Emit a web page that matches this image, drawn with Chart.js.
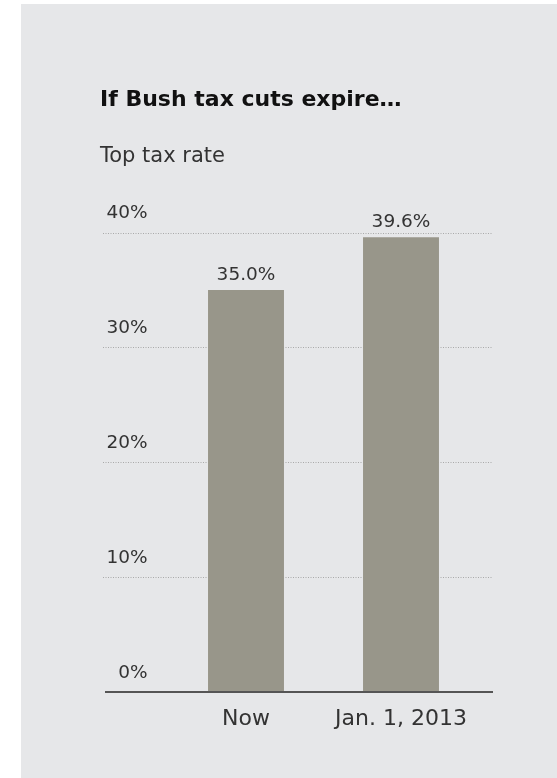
<!DOCTYPE html>
<html>
<head>
<meta charset="utf-8">
<script src="https://cdn.jsdelivr.net/npm/chart.js@4"></script>
<style>
  html, body { margin: 0; padding: 0; background: #ffffff; }
  #wrap { position: relative; width: 557px; height: 778px; overflow: hidden; }
  #panel { position: absolute; left: 21px; top: 4px; width: 536px; height: 774px; background: #e6e7e9; }
  #c { position: absolute; left: 0; top: 0; }
</style>
</head>
<body>
<div id="wrap">
  <div id="panel"></div>
  <canvas id="c" width="557" height="778"></canvas>
</div>
<script>
const titleText = 'If Bush tax cuts expire\u2026';
const subtitleText = 'Top tax rate';
const categories = ['Now', 'Jan. 1, 2013'];
const rates = [35.0, 39.6];
const valueLabels = ['35.0%', '39.6%'];
const yMin = 0;
const yMax = 40;
const yStep = 10;

const FONT = "'DejaVu Sans', sans-serif";

const gridPlugin = {
  id: 'gridPlugin',
  beforeDatasetsDraw(chart) {
    const y = chart.scales.y;
    const ctx = chart.ctx;
    ctx.save();
    ctx.strokeStyle = '#a9a9a9';
    ctx.lineWidth = 1;
    ctx.setLineDash([1, 1.5]);
    y.ticks.forEach(t => {
      if (t.value === yMin) return;
      const py = Math.round(y.getPixelForValue(t.value)) + 0.5;
      ctx.beginPath();
      ctx.moveTo(103, py);
      ctx.lineTo(493, py);
      ctx.stroke();
    });
    ctx.restore();
  },
  afterDatasetsDraw(chart) {
    const y = chart.scales.y;
    const ctx = chart.ctx;
    ctx.save();
    const py = y.getPixelForValue(yMin);
    ctx.strokeStyle = '#555555';
    ctx.lineWidth = 2;
    ctx.beginPath();
    ctx.moveTo(105, py);
    ctx.lineTo(493, py);
    ctx.stroke();
    // value labels
    ctx.fillStyle = '#333333';
    ctx.font = "18.5px " + FONT;
    ctx.textAlign = 'center';
    ctx.textBaseline = 'middle';
    const meta = chart.getDatasetMeta(0);
    meta.data.forEach((bar, i) => {
      ctx.fillText(valueLabels[i], bar.x, bar.y - 15);
    });
    ctx.restore();
  }
};

new Chart(document.getElementById('c'), {
  type: 'bar',
  data: {
    labels: categories,
    datasets: [{
      data: rates,
      backgroundColor: '#98968a',
      borderWidth: 0,
      barPercentage: 1,
      categoryPercentage: 0.49
    }]
  },
  options: {
    responsive: false,
    animation: false,
    events: [],
    layout: { padding: { left: 100, right: 78.5, top: 0, bottom: 31.6 } },
    plugins: {
      legend: { display: false },
      tooltip: { enabled: false },
      title: {
        display: true,
        text: titleText,
        align: 'start',
        color: '#111111',
        font: { family: FONT, size: 22, weight: 'bold', lineHeight: 1.2 },
        padding: { top: 87, bottom: 0 }
      },
      subtitle: {
        display: true,
        text: subtitleText,
        align: 'start',
        color: '#333333',
        font: { family: FONT, size: 21, weight: 'normal', lineHeight: 1.2 },
        padding: { top: 31, bottom: 63 }
      }
    },
    scales: {
      x: {
        grid: { display: false, drawTicks: false },
        border: { display: false },
        ticks: {
          color: '#333333',
          font: { family: FONT, size: 22 },
          padding: 14,
          maxRotation: 0
        }
      },
      y: {
        min: yMin,
        max: yMax,
        grid: { display: false, drawTicks: false },
        border: { display: false },
        afterFit(scale) { scale.width = 68.5; },
        ticks: {
          stepSize: yStep,
          color: '#333333',
          font: { family: FONT, size: 18.5 },
          padding: 21,
          labelOffset: -19,
          callback: v => v + '%'
        }
      }
    }
  },
  plugins: [gridPlugin]
});
</script>
</body>
</html>
